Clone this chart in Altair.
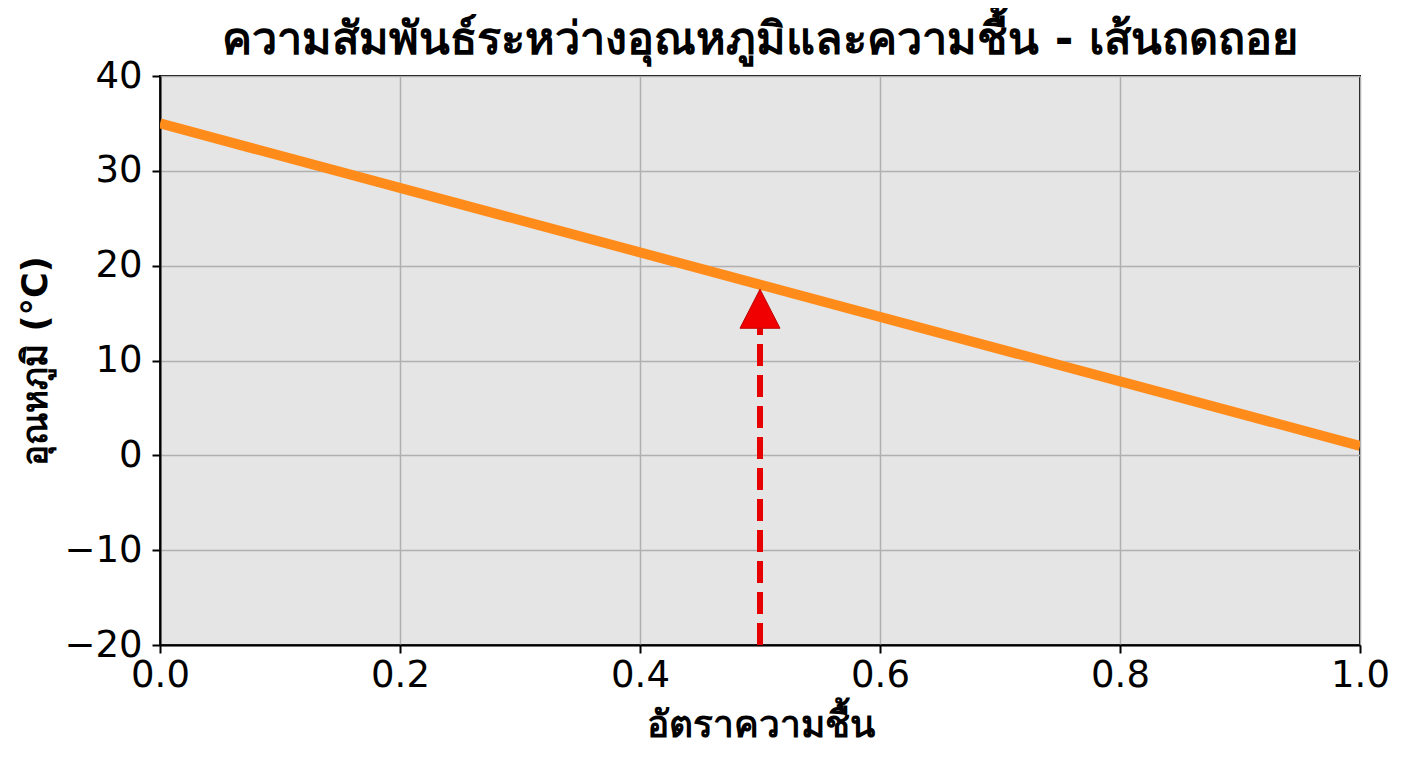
import altair as alt
import pandas as pd

title_text = "ความสัมพันธ์ระหว่างอุณหภูมิและความชื้น - เส้นถดถอย"
x_title = "อัตราความชื้น"
y_title = "อุณหภูมิ (°C)"

humidity = [0.0, 1.0]
temperature = [35.0, 1.0]

arrow_x = [0.5]
arrow_start = [-20.0]
arrow_head_base = [13.4]

x_ticks = [0.0, 0.2, 0.4, 0.6, 0.8, 1.0]
y_ticks = [-20, -10, 0, 10, 20, 30, 40]

line_df = pd.DataFrame({"x": humidity, "y": temperature})
shaft_df = pd.DataFrame({"x": arrow_x, "y": arrow_start, "y2": arrow_head_base})
head_df = pd.DataFrame({"x": arrow_x, "y": arrow_head_base})

FONT = "DejaVu Sans"

xscale = alt.Scale(domain=[0, 1], nice=False, zero=False)
yscale = alt.Scale(domain=[-20, 40], nice=False, zero=False)

xaxis = alt.Axis(values=x_ticks, format=".1f", title=x_title, grid=True,
                 gridColor="#b0b0b0", gridWidth=1.5, domainColor="black", domainWidth=2,
                 tickColor="black", tickSize=8, tickWidth=2, labelFontSize=37, labelFont=FONT,
                 labelColor="black", labelPadding=4, titleFontSize=37, titleFont=FONT,
                 titleFontWeight="bold", titleColor="black", titlePadding=14, labelFlush=False)
yaxis = alt.Axis(values=y_ticks, title=y_title, grid=True,
                 gridColor="#b0b0b0", gridWidth=1.5, domainColor="black", domainWidth=2,
                 tickColor="black", tickSize=8, tickWidth=2, labelFontSize=37, labelFont=FONT,
                 labelColor="black", labelPadding=10, titleFontSize=35, titleFont=FONT,
                 titleFontWeight="bold", titleColor="black", titlePadding=10, labelFlush=False)

line = alt.Chart(line_df).mark_line(color="#ff8c1a", strokeWidth=10, clip=True).encode(
    x=alt.X("x:Q", scale=xscale, axis=xaxis),
    y=alt.Y("y:Q", scale=yscale, axis=yaxis),
)

shaft = alt.Chart(shaft_df).mark_rule(color="#e60000", strokeWidth=6, strokeDash=[22, 9]).encode(
    x=alt.X("x:Q", scale=xscale),
    y=alt.Y("y:Q", scale=yscale),
    y2="y2:Q",
)

head = alt.Chart(head_df).mark_point(
    shape="M0,-1.95L1,0L-1,0Z", size=1600, filled=True, color="#f00000", opacity=1,
    stroke="#c00000", strokeWidth=1,
).encode(
    x=alt.X("x:Q", scale=xscale),
    y=alt.Y("y:Q", scale=yscale),
)

chart = alt.layer(line, shaft, head).properties(
    width=1200,
    height=569,
    title=alt.TitleParams(title_text, fontSize=45, font=FONT, fontWeight="bold",
                          color="black", anchor="middle", offset=-6),
    autosize=alt.AutoSizeParams(type="none"),
    padding={"left": 152, "top": 68, "right": 40, "bottom": 112},
).configure_view(fill="#e5e5e5", stroke="black", strokeWidth=2)

chart.save("out.html", embed_options={"renderer": "svg", "actions": False})
